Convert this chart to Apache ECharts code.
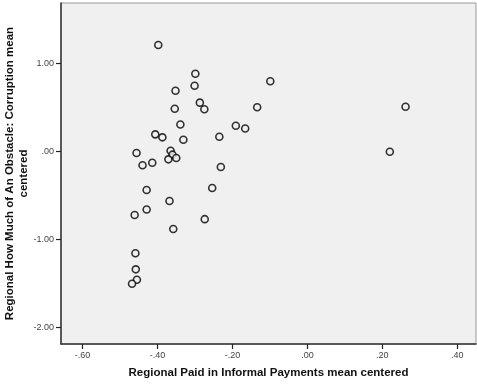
<!DOCTYPE html>
<html>
<head>
<meta charset="utf-8">
<script src="https://cdn.jsdelivr.net/npm/echarts@6/dist/echarts.min.js"></script>
<style>html,body{margin:0;padding:0;background:#fff}#c{width:477px;height:385px}</style>
</head>
<body>
<div id="c"></div>
<script>
var xValues = [-0.398,-0.299,-0.301,-0.352,-0.354,-0.287,-0.275,-0.339,-0.406,-0.387,-0.331,-0.235,-0.456,-0.440,-0.414,-0.365,-0.360,-0.371,-0.350,-0.231,-0.429,-0.254,-0.368,-0.429,-0.461,-0.274,-0.358,-0.459,-0.458,-0.455,-0.468,-0.099,-0.134,-0.191,-0.166,0.262,0.220];
var yValues = [1.210,0.884,0.748,0.691,0.486,0.555,0.480,0.307,0.195,0.161,0.134,0.168,-0.017,-0.157,-0.127,0.009,-0.036,-0.089,-0.074,-0.176,-0.438,-0.415,-0.563,-0.659,-0.722,-0.769,-0.881,-1.157,-1.339,-1.457,-1.502,0.798,0.502,0.293,0.261,0.509,-0.002];
var xTicks = [-0.6,-0.4,-0.2,0,0.2,0.4];
var yTicks = [-2,-1,0,1];
var xTitle = 'Regional Paid in Informal Payments mean centered';
var yTitle = 'Regional How Much of An Obstacle: Corruption mean\ncentered';

function fmt(v){ var s = Math.abs(v).toFixed(2); if (s.charAt(0)==='0') s = s.slice(1); return (v < 0 ? '-' : '') + s; }
var data = xValues.map(function(x,i){ return [x, yValues[i]]; });
var chart = echarts.init(document.getElementById('c'), null, {renderer:'canvas'});
chart.setOption({
  animation:false,
  backgroundColor:'#ffffff',
  grid:{left:61,right:1,top:3,bottom:41,containLabel:false,outerBoundsMode:'none',show:true,backgroundColor:'#f0f0f0',borderColor:'#9a9a9a',borderWidth:1},
  xAxis:{
    type:'value',min:-0.6576,max:0.45,z:10,
    name:xTitle,nameLocation:'middle',nameGap:23,nameMoveOverlap:false,
    nameTextStyle:{fontFamily:'Liberation Sans',fontWeight:'bold',fontSize:11.5,color:'#111'},
    axisLine:{show:true,onZero:false,lineStyle:{color:'#333',width:1.5}},
    axisTick:{show:true,length:5,customValues:xTicks,lineStyle:{color:'#222',width:1.2}},
    axisLabel:{show:true,customValues:xTicks,formatter:fmt,fontFamily:'Liberation Sans',fontSize:9,color:'#444',margin:7},
    splitLine:{show:false}
  },
  yAxis:{
    type:'value',min:-2.1875,max:1.6875,z:10,
    name:yTitle,nameLocation:'middle',nameGap:30,nameRotate:90,nameMoveOverlap:false,
    nameTextStyle:{fontFamily:'Liberation Sans',fontWeight:'bold',fontSize:11.5,color:'#111',lineHeight:14},
    axisLine:{show:true,onZero:false,lineStyle:{color:'#333',width:1.5}},
    axisTick:{show:true,length:5,customValues:yTicks,lineStyle:{color:'#222',width:1.2}},
    axisLabel:{show:true,customValues:yTicks,formatter:fmt,fontFamily:'Liberation Sans',fontSize:9,color:'#444',margin:7},
    splitLine:{show:false}
  },
  series:[{
    type:'scatter',data:data,symbol:'circle',symbolSize:7,
    itemStyle:{color:'#f0f0f0',borderColor:'#000',borderWidth:1.6}
  }]
});
</script>
</body>
</html>
